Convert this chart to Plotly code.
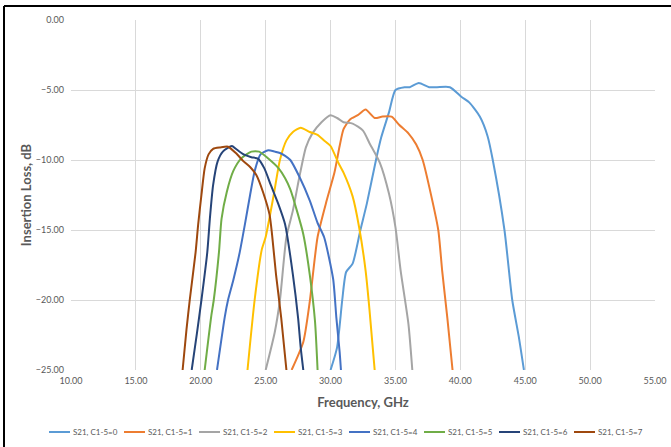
import plotly.graph_objects as go

names = ["S21, C1-5=0", "S21, C1-5=1", "S21, C1-5=2", "S21, C1-5=3",
         "S21, C1-5=4", "S21, C1-5=5", "S21, C1-5=6", "S21, C1-5=7"]
colors = ["#5B9BD5", "#ED7D31", "#A5A5A5", "#FFC000",
          "#4472C4", "#70AD47", "#264478", "#9E480E"]

f0 = [30.0, 30.5, 30.9, 31.2, 31.7, 32.3, 32.8, 33.5, 33.9, 34.5, 35.0, 35.7, 36.1, 36.8, 37.6, 38.2, 39.2, 40.1, 40.7, 41.5, 42.1, 42.5, 43.4, 44.0, 44.5, 44.9]
s0 = [-25.0, -23.4, -20.0, -18.0, -17.4, -15.0, -13.1, -10.0, -8.4, -6.6, -5.0, -4.8, -4.8, -4.5, -4.8, -4.8, -4.8, -5.5, -5.9, -6.9, -8.3, -10.0, -15.0, -20.0, -22.6, -25.0]

f1 = [27.0, 27.9, 28.4, 29.0, 29.7, 30.3, 30.7, 31.0, 31.5, 32.1, 32.7, 33.4, 34.0, 34.7, 35.3, 36.0, 36.6, 37.1, 37.6, 38.3, 38.6, 39.0, 39.4]
s1 = [-25.0, -23.0, -20.1, -15.5, -12.9, -10.9, -9.0, -7.8, -7.1, -6.8, -6.4, -7.0, -6.9, -6.9, -7.5, -8.1, -8.9, -10.0, -11.9, -15.0, -17.9, -21.3, -25.0]

f2 = [25.0, 25.7, 26.1, 26.6, 27.1, 27.6, 28.1, 28.6, 29.3, 30.0, 30.5, 31.0, 31.7, 32.5, 33.0, 33.8, 34.5, 35.0, 35.4, 36.0, 36.3]
s2 = [-25.0, -22.3, -20.0, -15.5, -13.6, -11.2, -9.1, -8.1, -7.3, -6.8, -7.0, -7.3, -7.4, -7.9, -8.8, -10.2, -12.4, -14.8, -17.9, -21.7, -25.0]

f3 = [23.6, 24.15, 24.7, 25.0, 25.6, 26.1, 26.6, 27.1, 27.7, 28.4, 29.0, 29.5, 30.0, 30.6, 31.0, 31.7, 32.2, 32.7, 33.0, 33.4]
s3 = [-25.0, -20.0, -16.4, -15.5, -12.6, -10.0, -8.6, -8.0, -7.7, -8.0, -8.2, -8.6, -9.0, -10.2, -10.9, -12.6, -14.8, -17.9, -20.7, -25.0]

f4 = [21.25, 21.85, 22.1, 22.5, 23.0, 23.4, 23.8, 24.15, 24.6, 25.2, 25.7, 26.1, 26.5, 26.9, 27.6, 28.4, 29.0, 29.5, 30.2, 30.45, 30.7, 30.8]
s4 = [-25.0, -21.2, -20.0, -18.6, -16.6, -14.6, -12.5, -10.8, -9.6, -9.3, -9.4, -9.5, -9.7, -10.0, -11.2, -12.9, -14.5, -15.5, -18.5, -21.3, -23.7, -25.0]

f5 = [20.3, 20.8, 21.0, 21.4, 21.6, 22.0, 22.5, 23.1, 23.9, 24.5, 25.2, 26.0, 26.5, 26.9, 27.4, 27.9, 28.4, 28.8, 29.0]
s5 = [-25.0, -21.2, -20.0, -16.6, -14.2, -12.3, -10.8, -9.9, -9.4, -9.4, -9.9, -10.6, -11.3, -12.1, -13.6, -15.3, -18.2, -21.5, -25.0]

f6 = [19.3, 19.7, 20.05, 20.5, 20.7, 20.95, 21.3, 21.7, 22.4, 22.7, 23.3, 23.9, 24.4, 24.9, 25.4, 26.0, 26.5, 27.1, 27.5, 27.7, 27.9]
s6 = [-25.0, -22.4, -20.0, -16.6, -14.2, -11.8, -10.1, -9.4, -9.0, -9.2, -9.6, -9.8, -9.9, -10.6, -11.8, -13.2, -14.6, -18.2, -21.3, -23.4, -25.0]

f7 = [18.6, 18.9, 19.15, 19.6, 19.8, 20.05, 20.3, 20.6, 20.95, 21.5, 22.1, 22.7, 23.3, 23.8, 24.3, 24.8, 25.3, 25.5, 25.8, 26.2, 26.6]
s7 = [-25.0, -22.1, -20.0, -16.6, -14.6, -12.5, -10.6, -9.6, -9.2, -9.1, -9.05, -9.5, -10.1, -10.5, -11.1, -12.3, -13.9, -15.4, -18.2, -21.3, -25.0]

freqs = [f0, f1, f2, f3, f4, f5, f6, f7]
vals = [s0, s1, s2, s3, s4, s5, s6, s7]

x_ticks = [10, 15, 20, 25, 30, 35, 40, 45, 50, 55]
y_ticks = [0, -5, -10, -15, -20, -25]

W, H = 671, 447
ML, MR, MT, MB = 71, 16, 20, 77
PW, PH = W - ML - MR, H - MT - MB


def px_to_paper_x(px):
    return (px - ML) / PW


def px_to_paper_y(py):
    return (H - MB - py) / PH


fig = go.Figure()
for n, c, fx, sy in zip(names, colors, freqs, vals):
    fig.add_trace(go.Scatter(x=fx, y=sy, mode="lines", name=n, showlegend=False,
                             line=dict(color=c, width=2, shape="spline", smoothing=0.6)))

font_family = "Lato, 'Liberation Sans', sans-serif"

# Custom single-row legend (Excel style)
shapes = [
    dict(type="line", xref="paper", yref="paper",
         x0=px_to_paper_x(4), x1=px_to_paper_x(680), y0=px_to_paper_y(6), y1=px_to_paper_y(6),
         line=dict(color="black", width=2)),
    dict(type="line", xref="paper", yref="paper",
         x0=px_to_paper_x(4), x1=px_to_paper_x(4), y0=px_to_paper_y(6), y1=px_to_paper_y(460),
         line=dict(color="black", width=2)),
]
annotations = []
leg_x0, leg_step, leg_y = 49, 75, 432
for i, (n, c) in enumerate(zip(names, colors)):
    x_start = leg_x0 + i * leg_step
    shapes.append(dict(type="line", xref="paper", yref="paper",
                       x0=px_to_paper_x(x_start), x1=px_to_paper_x(x_start + 21),
                       y0=px_to_paper_y(leg_y), y1=px_to_paper_y(leg_y),
                       line=dict(color=c, width=2)))
    annotations.append(dict(xref="paper", yref="paper", x=px_to_paper_x(x_start + 22),
                            y=px_to_paper_y(leg_y), text=n, showarrow=False,
                            xanchor="left", yanchor="middle",
                            font=dict(size=8, color="#595959", family=font_family)))

fig.update_layout(
    width=W, height=H,
    margin=dict(l=ML, r=MR, t=MT, b=MB, autoexpand=False),
    paper_bgcolor="white", plot_bgcolor="white",
    font=dict(family=font_family, color="#595959"),
    showlegend=False,
    xaxis=dict(range=[10, 55], tickvals=x_ticks, tickformat=".2f",
               showgrid=True, gridcolor="#D9D9D9", gridwidth=1, zeroline=False,
               showline=False, ticks="", ticklabelstandoff=4,
               tickfont=dict(size=9, color="#595959"),
               title=dict(text="<b>Frequency, GHz</b>", font=dict(size=13, color="#595959"), standoff=12)),
    yaxis=dict(range=[-25, 0], tickvals=y_ticks, tickformat=".2f",
               showgrid=True, gridcolor="#D9D9D9", gridwidth=1, zeroline=False,
               showline=False, ticks="", ticklabelstandoff=6,
               tickfont=dict(size=9, color="#595959"),
               title=dict(text="<b>Insertion Loss, dB</b>", font=dict(size=13, color="#595959"), standoff=1)),
    shapes=shapes,
    annotations=annotations,
)

fig.write_html("out.html", config={"displayModeBar": False},
               post_script="document.body.style.margin='0';document.body.style.overflow='hidden';")
